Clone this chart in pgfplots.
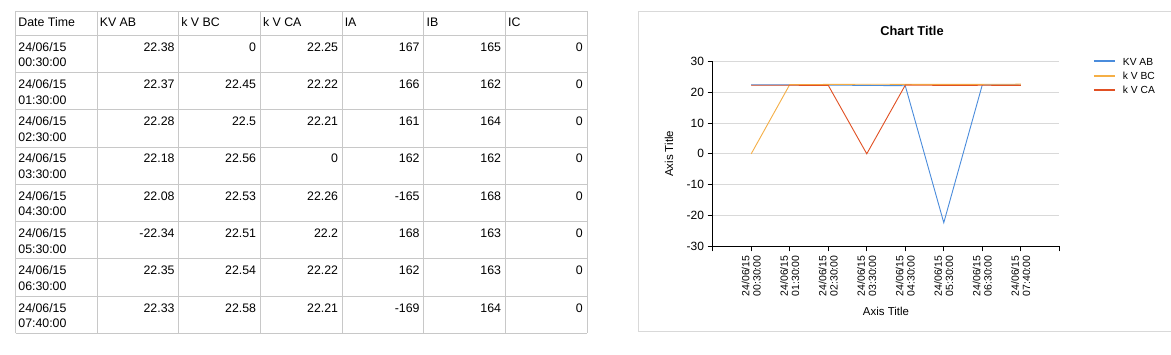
\documentclass[border=0pt]{standalone}
\usepackage{pgfplots}
\pgfplotsset{compat=1.18}
\usepackage{fontspec}
\setmainfont{Liberation Sans}
\definecolor{cAB}{RGB}{74,140,220}
\definecolor{cBC}{RGB}{245,175,70}
\definecolor{cCA}{RGB}{225,80,35}
\definecolor{tgrid}{RGB}{200,200,200}
\definecolor{cgrid}{RGB}{217,217,217}
\begin{document}
\begin{tikzpicture}[x=1bp,y=1bp]
\path[use as bounding box, fill=white] (0,0) rectangle (1171,354);
% ---- table grid ----
\begin{scope}[draw=tgrid, line width=0.8bp]
\foreach \x in {15.7,97.3,178.7,260.3,342.3,423.7,505.3,587}
  \draw (\x,342.7) -- (\x,20.6);
\draw (15.7,342.7) -- (587,342.7);
\foreach \r in {0,...,8} \draw (15.7,{319-37.3*\r}) -- (587,{319-37.3*\r});
\end{scope}
% ---- table text ----
\begin{scope}[every node/.style={inner sep=0pt}, font=\fontsize{12.4}{15}\selectfont]
\node[anchor=base west] at (18.2,327.3) {Date Time};
\node[anchor=base west] at (99.6,327.3) {KV AB};
\node[anchor=base west] at (181.2,327.3) {k V BC};
\node[anchor=base west] at (262.8,327.3) {k V CA};
\node[anchor=base west] at (344.6,327.3) {IA};
\node[anchor=base west] at (426.4,327.3) {IB};
\node[anchor=base west] at (508,327.3) {IC};
\foreach \r/\tm/\ab/\bc/\ca/\ia/\ib/\ic in {
 0/00:30:00/22.38/0/22.25/167/165/0,
 1/01:30:00/22.37/22.45/22.22/166/162/0,
 2/02:30:00/22.28/22.5/22.21/161/164/0,
 3/03:30:00/22.18/22.56/0/162/162/0,
 4/04:30:00/22.08/22.53/22.26/-165/168/0,
 5/05:30:00/-22.34/22.51/22.2/168/163/0,
 6/06:30:00/22.35/22.54/22.22/162/163/0,
 7/07:40:00/22.33/22.58/22.21/-169/164/0}{
  \node[anchor=base west] at (18.2,{303-37.3*\r}) {24/06/15};
  \node[anchor=base west] at (18.2,{287.3-37.3*\r}) {\tm};
  \node[anchor=base east] at (174.7,{303-37.3*\r}) {\ab};
  \node[anchor=base east] at (256.3,{303-37.3*\r}) {\bc};
  \node[anchor=base east] at (338.3,{303-37.3*\r}) {\ca};
  \node[anchor=base east] at (419.7,{303-37.3*\r}) {\ia};
  \node[anchor=base east] at (501.3,{303-37.3*\r}) {\ib};
  \node[anchor=base east] at (583,{303-37.3*\r}) {\ic};
}
\end{scope}
% ---- chart frame ----
\draw[cgrid, line width=0.8bp] (1190,342.7) -- (638.3,342.7) -- (638.3,22.7) -- (1190,22.7);
\node[font=\bfseries\fontsize{12.9}{15}\selectfont] at (912,322.7) {Chart Title};
\begin{axis}[
  at={(712.7bp,107.7bp)}, anchor=south west, scale only axis,
  width=346.6bp, height=185bp,
  xmin=0, xmax=9, ymin=-30, ymax=30,
  axis x line*=bottom, axis y line*=left,
  axis line style={black, line width=0.8bp, -},
  xtick={0,...,9},
  xticklabels={{},{24/06/15\\00:30:00},{24/06/15\\01:30:00},{24/06/15\\02:30:00},{24/06/15\\03:30:00},{24/06/15\\04:30:00},{24/06/15\\05:30:00},{24/06/15\\06:30:00},{24/06/15\\07:40:00},{}},
  ytick={-30,-20,...,30},
  tick align=outside, major tick length=5bp,
  tick style={black, line width=0.8bp},
  ymajorgrids, major grid style={cgrid, line width=0.8bp},
  xticklabel style={yshift=-4bp, rotate=90, anchor=east, align=center, inner sep=0pt, font=\fontsize{10.5}{11.3}\selectfont},
  yticklabel style={xshift=-3.5bp, anchor=east, inner sep=0pt, font=\fontsize{12}{14}\selectfont},
  /pgf/number format/assume math mode=true,
  xlabel={Axis Title}, ylabel={Axis Title},
  xlabel style={at={(axis description cs:0.5,-0.351)}, anchor=center, inner sep=0pt, font=\fontsize{11.5}{13}\selectfont},
  ylabel style={at={(axis description cs:-0.126,0.5)}, anchor=center, inner sep=0pt, font=\fontsize{11.5}{13}\selectfont},
  legend cell align=left,
  legend style={at={(axis description cs:1.0964,1.02)}, anchor=north west, draw=none, fill=none,
    inner sep=0pt, outer sep=0pt, row sep=7bp, column sep=6.4bp,
    font=\fontsize{10.3}{12}\selectfont,
    nodes={inner sep=0pt, text height=7.4bp, text depth=0pt}},
  legend image code/.code={\draw[line width=2.2bp] (0bp,0bp) -- (21.6bp,0bp);},
]
\addplot[cAB, line width=0.9bp] coordinates {(1,22.38)(2,22.37)(3,22.28)(4,22.18)(5,22.08)(6,-22.34)(7,22.35)(8,22.33)};
\addplot[cBC, line width=0.9bp] coordinates {(1,0)(2,22.45)(3,22.5)(4,22.56)(5,22.53)(6,22.51)(7,22.54)(8,22.58)};
\addplot[cCA, line width=0.9bp] coordinates {(1,22.25)(2,22.22)(3,22.21)(4,0)(5,22.26)(6,22.2)(7,22.22)(8,22.21)};
\legend{KV AB, k V BC, k V CA}
\end{axis}
\end{tikzpicture}
\end{document}
